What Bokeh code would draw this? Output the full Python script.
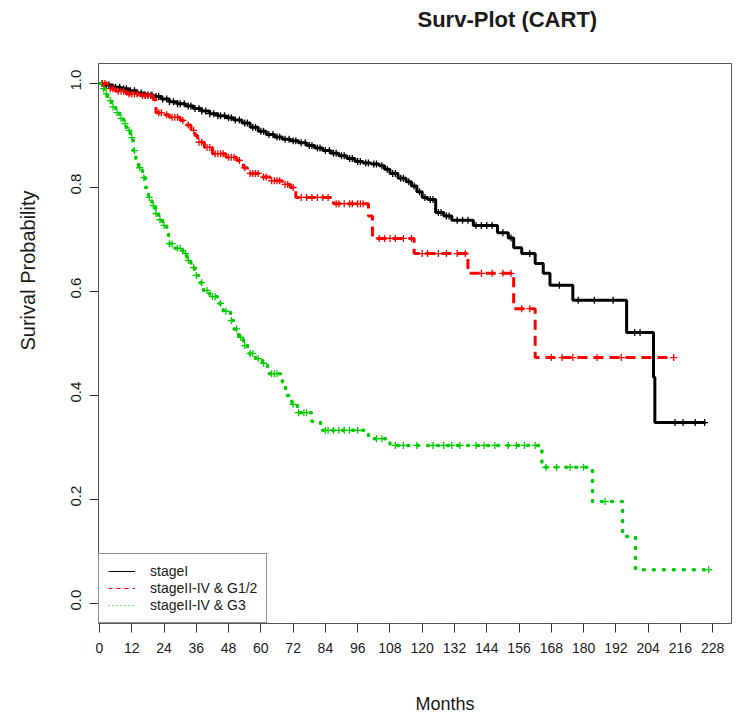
import math
import numpy as np
from bokeh.plotting import figure
from bokeh.models import (Range1d, FixedTicker, Title, Legend, LegendItem,
                          LinearAxis)
from bokeh.embed import file_html
from bokeh.resources import INLINE

# ---------------- data ----------------
x_ticks = [0, 12, 24, 36, 48, 60, 72, 84, 96, 108, 120, 132, 144, 156, 168,
           180, 192, 204, 216, 228]
y_ticks = [0.0, 0.2, 0.4, 0.6, 0.8, 1.0]
y_tick_labels = ["0.0", "0.2", "0.4", "0.6", "0.8", "1.0"]

group_names = ["stageI", "stageII-IV & G1/2", "stageII-IV & G3"]

# Kaplan-Meier steps: time (months) at which survival drops, survival after drop
# last entry = end of follow-up
stageI_time = [0, 2, 5, 8, 11, 14, 17, 20, 23, 26, 29, 32, 35, 38, 41, 44, 47,
               50, 53, 56, 59, 62, 65, 68, 71, 74, 77, 80, 83, 86, 89, 92, 95,
               98, 101, 104, 106, 108, 111, 114, 116, 118, 120, 122, 125, 128,
               131, 139, 148, 152, 154, 157, 162, 165, 167.5, 176, 196, 206,
               206.5, 225.4]
stageI_surv = [1.0, 0.997, 0.993, 0.99, 0.986, 0.982, 0.978, 0.975, 0.97,
               0.965, 0.961, 0.957, 0.952, 0.947, 0.942, 0.938, 0.934, 0.93,
               0.924, 0.916, 0.908, 0.902, 0.897, 0.893, 0.89, 0.886, 0.881,
               0.876, 0.871, 0.866, 0.861, 0.856, 0.85, 0.847, 0.845, 0.842,
               0.835, 0.827, 0.818, 0.811, 0.803, 0.792, 0.781, 0.777, 0.752,
               0.745, 0.737, 0.727, 0.713, 0.703, 0.684, 0.673, 0.654, 0.635,
               0.612, 0.583, 0.521, 0.435, 0.348, 0.348]
stageI_cens = [1, 2.5, 3.5, 5, 6, 7.5, 9, 10, 11.5, 13, 14, 15.5, 17, 18,
               19.5, 21, 22, 23.5, 25, 26, 27.5, 29, 30, 31.5, 33, 34, 35.5,
               37, 38, 39.5, 41, 42.5, 44, 45, 46.5, 48, 49, 50.5, 52, 54, 55,
               57, 58, 60, 61, 63, 64.5, 66, 67, 69, 70.5, 72, 73, 75, 76.5,
               78, 79, 81, 82, 84, 85.5, 87, 88, 90, 91, 93, 94, 96, 97, 99,
               100, 102, 103, 105, 107, 109, 110, 112, 113, 115, 117, 119, 121,
               123, 124, 126, 127, 129, 130, 133, 135, 137, 140, 142, 144, 146,
               150, 153, 160, 171, 178, 184, 191, 199, 201, 214, 217, 221.5,
               225]

g12_time = [0, 3, 6, 10, 15, 20, 21, 24, 26, 30, 32, 34, 35.5, 36.5, 39, 42,
            47, 51, 53.5, 55, 60, 63.5, 68, 71, 73, 87, 100, 101.5, 117, 137,
            154, 162, 213.5]
g12_surv = [1.0, 0.99, 0.985, 0.98, 0.977, 0.969, 0.944, 0.94, 0.935, 0.929,
            0.92, 0.91, 0.9, 0.887, 0.877, 0.865, 0.858, 0.852, 0.838, 0.827,
            0.82, 0.813, 0.806, 0.8, 0.781, 0.769, 0.745, 0.702, 0.673, 0.635,
            0.567, 0.473, 0.473]
g12_cens = [1, 2, 4, 5, 7, 8, 9, 11, 12, 13, 14, 16, 17, 18, 19, 22, 23, 25,
            27, 28, 29, 31, 33, 35, 37, 38, 40, 41, 43, 44, 45, 46, 48, 49, 50,
            52, 54, 56, 57, 58, 59, 61, 62, 64, 65, 66, 67, 69, 70, 72, 75, 77,
            79, 81, 83, 85, 88, 89, 91, 93, 94, 96, 97, 98, 104, 106, 108,
            110, 113, 116, 120, 122, 126, 129, 133, 136, 142, 146, 150, 153,
            157, 160, 168, 172, 176, 185, 194, 213.5]

g3_time = [0, 1, 2, 3, 4.5, 6, 7.5, 9, 10, 11.5, 12.5, 13.5, 14.5, 16, 17,
           18.2, 19.5, 20.8, 22, 23.4, 25, 25.7, 28, 31, 32.5, 34, 35.5, 37,
           38.7, 41, 44, 46, 48.7, 50, 51.7, 53.5, 55, 58, 60.6, 62.5, 67.3,
           68, 69.2, 71.5, 73.6, 79, 82.2, 100, 108, 164.5, 183.3, 194.5,
           199.3, 226.5]
g3_surv = [1.0, 0.99, 0.98, 0.967, 0.955, 0.944, 0.933, 0.923, 0.91, 0.896,
           0.871, 0.855, 0.838, 0.819, 0.8, 0.781, 0.765, 0.75, 0.738, 0.727,
           0.71, 0.692, 0.683, 0.673, 0.66, 0.646, 0.631, 0.617, 0.602, 0.59,
           0.577, 0.562, 0.544, 0.528, 0.512, 0.496, 0.481, 0.471, 0.462,
           0.442, 0.435, 0.417, 0.4, 0.383, 0.367, 0.35, 0.333, 0.317, 0.304,
           0.262, 0.196, 0.129, 0.065, 0.065]
g3_cens = [1.5, 2.5, 4, 5, 6.5, 8, 9.5, 11, 12, 13, 15, 16.5, 18.5, 20, 21,
           22.5, 24, 26, 27, 29, 30, 32, 33, 35, 36, 38, 40, 42, 43, 45, 47,
           49, 51, 52.5, 54, 56, 57, 59, 61, 64, 65, 66, 72, 74, 76, 77, 84,
           85, 87, 89, 91, 93, 96, 103, 105, 110, 113, 118, 124, 128, 131,
           134, 140, 143, 147, 152, 155, 158, 162, 166, 170, 175, 180, 188,
           226.5]

colors = ["#000000", "#FF0000", "#00CD00"]
FONT = "Liberation Sans"
TXT = "#1a1a1a"
NB = "\u00a0"

X0, X1 = -0.37, 235.0
Y0, Y1 = -0.0385, 1.0385
FRAME_H = 560


def surv_at(times, survs, t):
    idx = np.searchsorted(np.asarray(times), np.asarray(t), side="right") - 1
    return list(np.asarray(survs)[idx])


p = figure(width=741, height=719, output_backend="svg", toolbar_location=None,
           x_range=Range1d(X0, X1), y_range=Range1d(Y0, Y1),
           min_border_left=98, min_border_right=10, min_border_top=63,
           min_border_bottom=96, title=None)
p.background_fill_color = "white"
p.border_fill_color = "white"
p.outline_line_color = "#555555"
p.outline_line_width = 1
p.xgrid.visible = False
p.ygrid.visible = False

# x axis
xa = p.xaxis[0]
xa.ticker = FixedTicker(ticks=x_ticks)
xa.axis_line_color = None
xa.major_tick_in = 0
xa.major_tick_out = 9
xa.minor_tick_out = 0
xa.major_tick_line_color = "#333333"
xa.minor_tick_line_color = None
xa.major_label_standoff = 10
xa.major_label_text_font = FONT
xa.major_label_text_font_size = "14px"
xa.major_label_text_color = TXT

# y axis: tick marks only
ya = p.yaxis[0]
ya.ticker = FixedTicker(ticks=y_ticks)
ya.axis_line_color = None
ya.major_tick_in = 0
ya.major_tick_out = 9
ya.minor_tick_out = 0
ya.major_tick_line_color = "#333333"
ya.minor_tick_line_color = None
ya.major_label_overrides = {t: "" for t in y_ticks}
ya.major_label_standoff = 0

# y tick labels: R draws the rotated labels a little above their ticks
label_shift = 13.8 * (Y1 - Y0) / FRAME_H
y_label_pos = [t + label_shift for t in y_ticks]
ya2 = LinearAxis(ticker=FixedTicker(ticks=y_label_pos),
                 major_label_overrides=dict(zip(y_label_pos, y_tick_labels)),
                 axis_line_color=None, major_tick_line_color=None,
                 minor_tick_line_color=None, major_tick_in=0, major_tick_out=0,
                 minor_tick_in=0, minor_tick_out=0, major_label_standoff=13,
                 major_label_orientation=math.pi / 2,
                 major_label_text_font=FONT, major_label_text_font_size="15px",
                 major_label_text_color=TXT)
p.add_layout(ya2, "left")

styles = [dict(line_dash="solid"), dict(line_dash="10 6"),
          dict(line_dash="1 9", line_cap="round")]
widths = [3, 3, 3.5]
series = [(stageI_time, stageI_surv, stageI_cens),
          (g12_time, g12_surv, g12_cens),
          (g3_time, g3_surv, g3_cens)]

for (t, s, c), col, st, w in zip(series, colors, styles, widths):
    p.step(t, s, mode="after", line_color=col, line_width=w, **st)
    p.scatter(c, surv_at(t, s, c), marker="cross", size=7, line_color=col,
              line_width=1.3)

# legend (thin sample lines, as in the original)
leg_styles = ["solid", "4 4", "1 3"]
items = []
for name, col, dash in zip(group_names, colors, leg_styles):
    r = p.line([np.nan], [np.nan], line_color=col, line_width=1, line_dash=dash)
    items.append(LegendItem(label=name, renderers=[r]))
legend = Legend(items=items, location=(0, 0), orientation="vertical",
                label_text_font=FONT, label_text_font_size="14px",
                label_text_color=TXT,
                glyph_width=27, glyph_height=14, label_height=14,
                label_standoff=15, spacing=1, padding=9, margin=0,
                border_line_color="#222222", border_line_width=1,
                background_fill_color="white", background_fill_alpha=1.0)
p.add_layout(legend, "center")

# titles (blank extra lines push the text away from the frame)
p.add_layout(Title(text="Surv-Plot (CART)\n" + NB, align="left", offset=319,
                   standoff=0, vertical_align="top", text_font=FONT,
                   text_font_size="22px", text_font_style="bold",
                   text_line_height=1.2, text_color=TXT), "above")
p.add_layout(Title(text=NB + "\n" + NB + "\nMonths", align="left", offset=317,
                   standoff=0, vertical_align="top", text_font=FONT,
                   text_font_size="18px", text_font_style="normal",
                   text_line_height=0.97, text_color=TXT), "below")
p.add_layout(Title(text="Surival Probability\n" + NB, align="left", offset=273,
                   standoff=0, vertical_align="top", text_font=FONT,
                   text_font_size="20px", text_font_style="normal",
                   text_line_height=1.05, text_color=TXT), "left")

open("out.html", "w").write(file_html(p, INLINE))
